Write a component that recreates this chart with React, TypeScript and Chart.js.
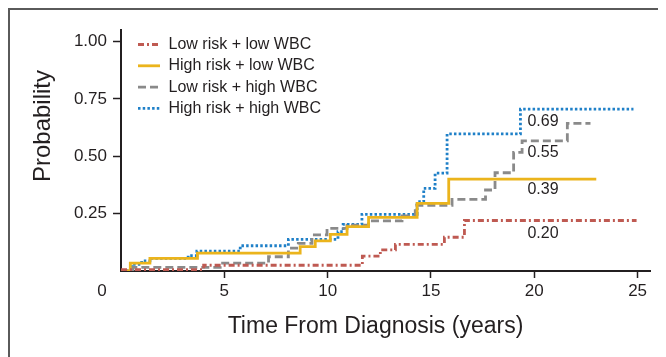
import React, { useEffect, useRef } from 'react';
import { Chart, registerables } from 'chart.js';

Chart.register(...registerables);

const FONT = '"Liberation Sans", Arial, Helvetica, sans-serif';
const TEXT = '#231f20';
const AXIS = '#231f20';

const seriesNames = ['Low risk + low WBC', 'High risk + low WBC', 'Low risk + high WBC', 'High risk + high WBC'];
const seriesColors = ['#bf5a52', '#ebb41c', '#8a8a8a', '#1f80c8'];
const seriesDashes: number[][] = [[6, 3, 2, 3], [], [8, 4], [2.5, 2.2]];

const lowLowTimes = [0, 4.0, 11.68, 12.55, 13.28, 15.65, 16.62, 24.95];
const lowLowProbs = [0.006, 0.025, 0.065, 0.092, 0.116, 0.147, 0.22, 0.22];

const highLowTimes = [0, 0.45, 1.4, 3.7, 8.67, 9.4, 10.13, 10.94, 11.98, 14.33, 15.86, 23.0];
const highLowProbs = [0, 0.034, 0.055, 0.078, 0.106, 0.131, 0.16, 0.193, 0.234, 0.295, 0.4, 0.4];

const lowHighTimes = [0, 0.58, 4.8, 7.14, 8.1, 8.58, 9.24, 9.97, 10.94, 11.98, 13.6, 14.24, 16.02, 17.64, 18.1, 19.0, 19.41, 21.6, 22.72];
const lowHighProbs = [0, 0.016, 0.034, 0.062, 0.1, 0.12, 0.157, 0.186, 0.2, 0.218, 0.24, 0.286, 0.312, 0.353, 0.428, 0.517, 0.567, 0.643, 0.643];

const highHighTimes = [0, 0.52, 1.0, 1.4, 3.25, 3.67, 5.77, 8.1, 10.5, 10.75, 11.66, 14.33, 14.65, 15.2, 15.78, 19.33, 24.8];
const highHighProbs = [0, 0.029, 0.044, 0.055, 0.067, 0.087, 0.11, 0.138, 0.171, 0.203, 0.247, 0.302, 0.36, 0.426, 0.597, 0.705, 0.705];

const xTickValues = [5, 10, 15, 20, 25];
const yTickValues = [0.25, 0.5, 0.75, 1.0];
const originLabel = '0';

const endLabels = ['0.69', '0.55', '0.39', '0.20'];
const endLabelX = [19.67, 19.67, 19.67, 19.67];
const endLabelY = [0.653, 0.514, 0.353, 0.165];

const xTitle = 'Time From Diagnosis (years)';
const yTitle = 'Probability';

const seriesTimes = [lowLowTimes, highLowTimes, lowHighTimes, highHighTimes];
const seriesProbs = [lowLowProbs, highLowProbs, lowHighProbs, highHighProbs];

const decorPlugin = {
  id: 'decor',
  afterDraw(chart: any) {
    const { ctx, chartArea, scales } = chart;
    const xs = scales.x;
    const ys = scales.y;
    ctx.save();
    ctx.fillStyle = TEXT;

    ctx.font = `17px ${FONT}`;
    ctx.textAlign = 'center';
    ctx.textBaseline = 'middle';
    ctx.fillText(originLabel, xs.getPixelForValue(0) - 19, chartArea.bottom + 20);

    ctx.font = `16px ${FONT}`;
    ctx.textAlign = 'left';
    endLabels.forEach((t, i) => {
      ctx.fillText(t, xs.getPixelForValue(endLabelX[i]), ys.getPixelForValue(endLabelY[i]));
    });

    ctx.font = `16px ${FONT}`;
    seriesNames.forEach((name, i) => {
      const cy = chartArea.top + 14.5 + i * 21.3;
      ctx.save();
      ctx.strokeStyle = seriesColors[i];
      ctx.lineWidth = 2.8;
      ctx.lineCap = 'butt';
      ctx.setLineDash(seriesDashes[i]);
      ctx.beginPath();
      ctx.moveTo(chartArea.left + 17, cy);
      ctx.lineTo(chartArea.left + 39, cy);
      ctx.stroke();
      ctx.restore();
      ctx.fillStyle = TEXT;
      ctx.textAlign = 'left';
      ctx.textBaseline = 'middle';
      ctx.fillText(name, chartArea.left + 47.5, cy);
    });

    ctx.font = `23px ${FONT}`;
    ctx.textAlign = 'center';
    ctx.textBaseline = 'middle';
    ctx.fillText(xTitle, (chartArea.left + chartArea.right) / 2 - 10, chartArea.bottom + 56);

    ctx.save();
    ctx.translate(chartArea.left - 78, chartArea.top + 96);
    ctx.rotate(-Math.PI / 2);
    ctx.font = `24px ${FONT}`;
    ctx.fillText(yTitle, 0, 0);
    ctx.restore();

    ctx.restore();
  },
};

export default function App() {
  const canvasRef = useRef<HTMLCanvasElement | null>(null);

  useEffect(() => {
    document.body.style.overflow = 'hidden';
    document.documentElement.style.overflow = 'hidden';
    const canvas = canvasRef.current;
    if (!canvas) return;
    const datasets = seriesNames.map((name, i) => ({
      label: name,
      data: seriesTimes[i].map((t, j) => ({ x: t, y: seriesProbs[i][j] })),
      borderColor: seriesColors[i],
      backgroundColor: seriesColors[i],
      borderDash: seriesDashes[i],
      borderWidth: 2.8,
      borderCapStyle: 'butt' as const,
      borderJoinStyle: 'miter' as const,
      stepped: true,
      fill: false,
      pointRadius: 0,
      pointHoverRadius: 0,
    }));

    const chart = new Chart(canvas, {
      type: 'line',
      data: { datasets },
      options: {
        animation: false,
        responsive: false,
        maintainAspectRatio: false,
        devicePixelRatio: 1,
        layout: { padding: { top: 20, right: 6, left: 0, bottom: 0 } },
        plugins: {
          legend: { display: false },
          tooltip: { enabled: false },
        },
        scales: {
          x: {
            type: 'linear',
            min: 0,
            max: 25.6,
            afterBuildTicks: (s: any) => {
              s.ticks = xTickValues.map((v) => ({ value: v }));
            },
            afterFit: (s: any) => {
              s.height = 78;
            },
            ticks: {
              font: { family: FONT, size: 17 },
              color: TEXT,
              padding: 3,
              maxRotation: 0,
              autoSkip: false,
              callback: (v: any) => String(v),
            },
            grid: { drawOnChartArea: false, drawTicks: true, tickLength: 7, tickColor: AXIS, tickWidth: 1.5 },
            border: { color: AXIS, width: 2 },
          },
          y: {
            type: 'linear',
            min: 0,
            max: 1.05,
            afterBuildTicks: (s: any) => {
              s.ticks = yTickValues.map((v) => ({ value: v }));
            },
            afterFit: (s: any) => {
              s.width = 111;
            },
            ticks: {
              font: { family: FONT, size: 17 },
              color: TEXT,
              padding: 6,
              autoSkip: false,
              callback: (v: any) => Number(v).toFixed(2),
            },
            grid: { drawOnChartArea: false, drawTicks: true, tickLength: 8, tickColor: AXIS, tickWidth: 1.5 },
            border: { color: AXIS, width: 2 },
          },
        },
      },
      plugins: [decorPlugin],
    });
    return () => chart.destroy();
  }, []);

  return (
    <div
      style={{
        borderLeft: '2px solid #5a5a5a',
        borderTop: '2px solid #5a5a5a',
        width: 700,
        height: 400,
        overflow: 'hidden',
      }}
    >
      <canvas ref={canvasRef} width={646} height={339} style={{ display: 'block', width: 646, height: 339 }} />
    </div>
  );
}
